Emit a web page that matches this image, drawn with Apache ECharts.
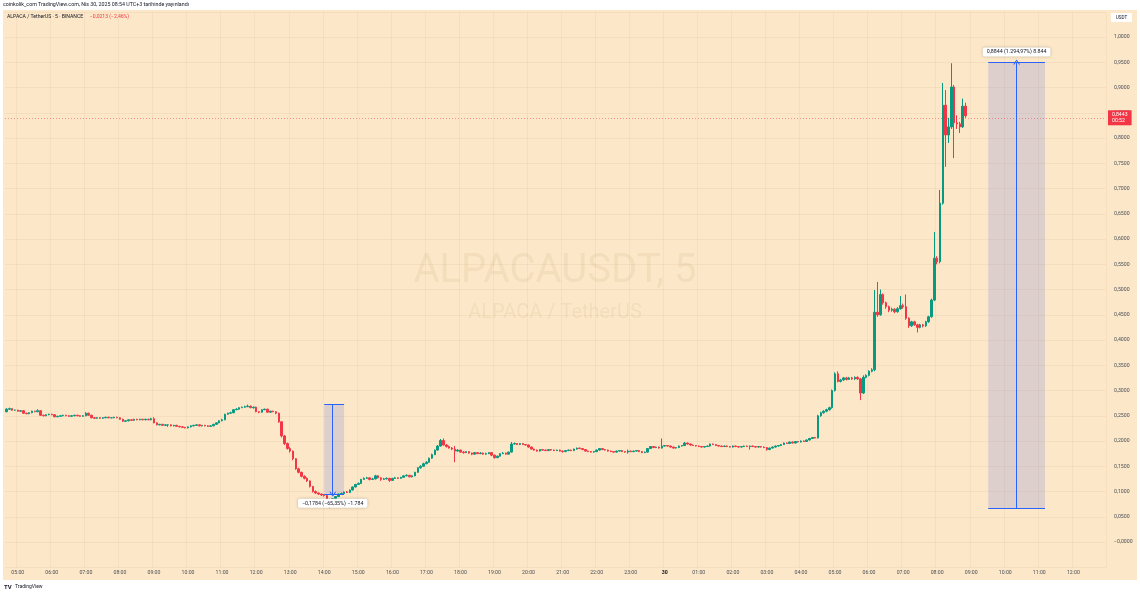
<!DOCTYPE html>
<html><head><meta charset="utf-8">
<script src="https://cdn.jsdelivr.net/npm/echarts@6/dist/echarts.min.js"></script>
<style>html,body{margin:0;padding:0;background:#fff}#c{width:1140px;height:593px}</style>
</head><body><div id="c"></div>
<script>
// ---- time slots (5-minute candles), starting 29 Apr 04:40 ----
const startMinute = 4 * 60 + 40;
const slotCount = 388;
const categories = [];
for (let i = 0; i < slotCount; i++) {
  const m = startMinute + i * 5;
  const d = 29 + Math.floor(m / 1440);
  const mm = m % 1440;
  categories.push(d + ' ' + String(Math.floor(mm / 60)).padStart(2, '0') + ':' + String(mm % 60).padStart(2, '0'));
}

// ---- OHLC values, in thousandths of USDT ----
const opens = [
258,263,264,261,
261,259,260,255,254,256,259,258,260,251,250,252,
253,252,248,249,250,251,250,249,250,251,250,249,
250,255,251,246,245,246,245,246,247,246,246,247,
246,243,239,240,242,241,243,242,243,242,243,242,
244,236,232,233,231,232,232,230,231,229,228,227,
226,228,230,231,232,230,231,230,229,230,233,236,
240,242,253,255,256,262,263,266,267,268,269,266,
267,258,257,262,263,257,259,258,255,238,210,195,
185,180,165,145,138,130,126,121,110,100,97,95,
93,92,84,81,86,90,95,96,99,98,103,109,
114,116,124,126,127,124,125,131,127,124,125,126,
122,126,127,126,128,131,132,129,131,138,147,150,
155,158,166,173,182,190,201,192,189,186,184,180,
182,178,177,179,176,174,177,175,176,174,175,177,
172,167,170,175,176,174,178,194,195,193,195,193,
192,188,184,182,180,183,182,181,183,182,181,182,
180,179,181,182,181,184,186,185,183,180,179,178,
179,182,185,183,182,180,179,178,180,181,179,178,
180,179,180,181,179,177,178,185,189,187,188,186,
190,191,190,188,186,187,190,191,196,194,192,191,
190,189,188,189,190,194,193,191,190,189,190,189,
188,190,189,188,189,190,189,190,189,188,189,188,
187,183,186,188,190,191,193,196,195,198,196,199,
198,200,199,202,205,207,206,250,256,259,262,266,
300,333,318,321,325,322,325,323,326,323,295,326,
330,338,341,455,450,490,474,466,459,461,456,462,
468,466,443,428,436,430,425,430,428,436,446,479,
562,555,671,865,806,822,901,830,828,822,863
];
const closes = [
263,264,261,261,
259,260,255,254,256,259,258,260,251,250,252,253,
252,248,249,250,251,250,249,250,251,250,249,250,
255,251,246,245,246,245,246,247,246,246,247,246,
243,239,240,242,241,243,242,243,242,243,242,244,
236,232,233,231,232,232,230,231,229,228,227,226,
228,230,231,232,230,231,230,229,230,233,236,240,
242,253,255,256,262,263,266,267,268,269,266,267,
258,257,262,263,257,259,258,255,238,210,195,185,
180,165,145,138,130,126,121,110,100,97,95,93,
92,84,81,86,90,95,96,99,98,103,109,114,
116,124,126,127,124,125,131,127,124,125,126,122,
126,127,126,128,131,132,129,131,138,147,150,155,
158,166,173,182,190,201,192,189,186,184,180,182,
178,177,179,176,174,177,175,176,174,175,177,172,
167,170,175,176,174,178,194,195,193,195,193,192,
188,184,182,180,183,182,181,183,182,181,182,180,
179,181,182,181,184,186,185,183,180,179,178,179,
182,185,183,182,180,179,178,180,181,179,178,180,
179,180,181,179,177,178,185,189,187,188,186,190,
191,190,188,186,187,190,191,196,194,192,191,190,
189,188,189,190,194,193,191,190,189,190,189,188,
190,189,188,189,190,189,190,189,188,189,188,187,
183,186,188,190,191,193,196,195,198,196,199,198,
200,199,202,205,207,206,250,256,259,262,266,300,
333,318,321,325,322,325,323,326,323,295,326,330,
338,341,455,450,490,474,466,459,461,456,462,468,
466,443,428,436,430,425,430,428,436,446,479,562,
555,671,865,806,822,901,830,828,822,863,844
];
const highs = [
265,266,265,262,
262,261,261,256,257,260,260,263,261,252,253,254,
254,253,250,251,252,252,251,251,252,252,251,251,
257,256,252,247,247,247,247,248,248,247,248,248,
247,244,241,243,243,244,244,244,244,244,244,246,
247,237,234,234,233,233,233,232,232,230,229,228,
229,231,232,233,233,232,232,231,231,234,237,241,
244,254,256,258,263,265,267,268,270,272,270,268,
268,259,263,264,264,260,260,259,256,239,212,197,
188,181,166,147,139,132,128,122,111,102,98,96,
95,93,86,87,91,96,98,100,101,104,110,115,
118,125,128,129,128,127,133,132,128,127,128,127,
127,129,128,129,132,134,133,132,139,148,152,157,
160,167,175,183,192,204,205,194,191,188,190,184,
183,180,180,180,177,178,178,178,177,177,178,178,
173,171,176,178,177,179,198,197,196,196,196,194,
193,189,185,183,184,184,183,184,184,183,183,183,
181,182,183,183,185,187,187,186,184,181,180,180,
183,186,186,184,183,181,180,181,182,182,180,183,
181,181,182,182,180,179,186,190,190,189,189,205,
192,192,191,189,188,191,192,198,197,195,193,192,
191,190,190,191,195,195,194,192,191,191,191,190,
191,191,190,190,191,191,191,191,190,190,190,189,
188,187,189,191,192,194,197,197,199,199,200,200,
201,201,203,206,208,208,252,258,261,264,268,302,
336,338,323,327,327,327,327,328,328,325,330,332,
340,344,499,515,500,492,476,468,464,463,465,487,
472,490,445,438,438,432,432,432,438,448,482,614,
566,697,909,895,840,948,905,845,832,878,870
];
const lows = [
257,262,260,260,
258,258,254,253,253,255,257,257,250,249,249,251,
251,247,247,248,249,249,248,248,249,249,248,248,
249,250,245,244,244,244,244,245,245,245,245,245,
242,238,238,239,240,240,241,241,241,241,241,241,
235,231,231,230,230,228,229,229,228,227,226,225,
225,227,229,230,229,229,229,228,228,229,232,235,
239,241,252,254,255,261,262,265,266,267,265,264,
257,255,256,261,256,256,257,253,236,207,192,183,
177,162,143,136,128,124,119,108,98,95,93,91,
90,80,67,79,85,89,94,95,97,97,102,108,
113,115,123,125,122,123,124,126,121,123,124,119,
121,125,125,125,127,130,128,128,130,137,145,149,
154,157,165,172,181,189,191,187,185,182,158,179,
177,175,176,175,172,173,174,174,173,173,174,170,
165,166,169,174,173,173,177,193,192,192,192,191,
187,183,181,179,179,181,180,180,181,180,180,179,
177,178,180,180,180,183,184,182,179,178,177,177,
178,181,182,181,179,178,177,177,179,178,177,175,
178,178,179,178,176,176,177,184,186,186,185,185,
189,189,187,185,185,186,189,190,193,191,190,189,
188,187,187,188,189,192,190,189,188,188,188,187,
187,188,187,187,188,188,183,188,187,187,187,186,
181,182,185,187,189,190,192,194,194,195,195,197,
197,198,198,201,204,205,205,248,254,257,260,264,
298,316,316,319,320,321,321,321,321,281,293,324,
328,336,338,446,448,470,462,455,456,453,454,460,
462,440,424,426,428,415,423,425,426,434,444,477,
550,552,668,743,790,818,760,818,810,820,840
];

// ---- price-range measurements and last price ----
const lastPrice = 0.8443;
const lastPriceText = '0,8443';
const countdownText = '00:52';
const dropRange = { from: '29 14:00', to: '29 14:35', arrowAt: '29 14:15', top: 0.2728, bottom: 0.0944,
  text: '\u22120,1784 (\u221265,35%) \u22121.784' };
const riseRange = { from: '30 09:30', to: '30 11:10', arrowAt: '30 10:20', top: 0.9505, bottom: 0.0661,
  text: '0,8844 (1.294,97%) 8.844' };

const candleData = opens.map((o, i) => [o / 1000, closes[i] / 1000, lows[i] / 1000, highs[i] / 1000]);

const UP = '#089981', DOWN = '#f23645', BLUE = '#2962ff';
const PEACH = '#fce8c8';
const FONT = 'Roboto, "Noto Sans", sans-serif';
const arrowPath = 'path://M0,10 L5,0 L10,10 L8.4,10 L5,3.2 L1.6,10 Z';

function yFmt(v) {
  const r = Math.round(v * 20) / 20;
  if (r < -0.001 || r > 1.001) return '';
  if (Math.abs(r) < 1e-9) return '\u22120,0000';
  return r.toFixed(4).replace('.', ',');
}

function rangeLines(r, arrowUp) {
  const ls = { color: BLUE, width: 1, type: 'solid' };
  return [
    [{ coord: [r.from, r.top], symbol: 'none', lineStyle: ls }, { coord: [r.to, r.top], symbol: 'none' }],
    [{ coord: [r.from, r.bottom], symbol: 'none', lineStyle: ls }, { coord: [r.to, r.bottom], symbol: 'none' }],
    arrowUp
      ? [{ coord: [r.arrowAt, r.bottom], symbol: 'none', lineStyle: ls }, { coord: [r.arrowAt, r.top], symbol: arrowPath, symbolSize: [7, 5] }]
      : [{ coord: [r.arrowAt, r.top], symbol: 'none', lineStyle: ls }, { coord: [r.arrowAt, r.bottom], symbol: arrowPath, symbolSize: [7, 5] }]
  ];
}

const chart = echarts.init(document.getElementById('c'), null, { renderer: 'canvas' });
const labelBox = { backgroundColor: '#ffffff', color: '#131722', fontSize: 5.3, fontFamily: FONT,
  padding: [2, 4], borderRadius: 2, shadowBlur: 3, shadowColor: 'rgba(0,0,0,0.25)' };

chart.setOption({
  animation: false,
  backgroundColor: '#ffffff',
  textStyle: { fontFamily: FONT },
  graphic: [
    { type: 'rect', z: -10, shape: { x: 3, y: 10, width: 1134, height: 570 }, style: { fill: PEACH } },
    { type: 'text', z: -5, x: 555, y: 272, style: { text: 'ALPACAUSDT, 5', fontSize: 40, fontFamily: FONT,
      fill: 'rgba(150,110,60,0.09)', align: 'center', verticalAlign: 'middle' } },
    { type: 'text', z: -5, x: 555, y: 313, style: { text: 'ALPACA / TetherUS', fontSize: 20, fontFamily: FONT,
      fill: 'rgba(150,110,60,0.09)', align: 'center', verticalAlign: 'middle' } },
    { type: 'text', x: 3, y: 5, style: { text: 'coinkolik_com TradingView.com, Nis 30, 2025 08:54 UTC+3 tarihinde yay\u0131nland\u0131',
      fontSize: 5.3, fontFamily: FONT, fill: '#131722', verticalAlign: 'middle' } },
    { type: 'text', x: 7, y: 17, style: { text: '{a|ALPACA / TetherUS \u00b7 5 \u00b7 BINANCE}  {r|\u22120,0213 (\u22122,46%)}',
      verticalAlign: 'middle', rich: { a: { fontSize: 5.1, fontFamily: FONT, fill: '#131722' }, r: { fontSize: 5.1, fontFamily: FONT, fill: DOWN } } } },
    { type: 'rect', shape: { x: 1111, y: 13, width: 21, height: 9, r: 1 }, style: { fill: '#ffffff' } },
    { type: 'text', x: 1121.5, y: 17.5, style: { text: 'USDT', fontSize: 4.6, fontFamily: FONT, fill: '#131722', align: 'center', verticalAlign: 'middle' } },
    { type: 'text', x: 4, y: 587, style: { text: '{l|TV} {t|TradingView}', verticalAlign: 'middle',
      rich: { l: { fontSize: 6, fontWeight: 'bold', fontFamily: FONT, fill: '#131722' }, t: { fontSize: 5, fontFamily: FONT, fill: '#131722' } } } }
  ],
  grid: { left: 5, right: 34, top: 11.75, bottom: 25.75, containLabel: false },
  xAxis: {
    type: 'category', data: categories, boundaryGap: true,
    axisLine: { show: false }, axisTick: { show: false },
    axisLabel: {
      interval: (i, v) => v.endsWith(':00'),
      formatter: v => (v === '30 00:00' ? '{b|30}' : v.slice(3)),
      margin: 3, fontSize: 5.2, color: '#4a4d57', fontFamily: FONT,
      rich: { b: { fontWeight: 'bold', fontSize: 5.2, color: '#131722', fontFamily: FONT } }
    },
    splitLine: { show: true, interval: (i, v) => v.endsWith(':00'), lineStyle: { color: 'rgba(160,120,70,0.07)', width: 1 } }
  },
  yAxis: {
    type: 'value', position: 'right', min: -0.05, max: 1.05, interval: 0.05, scale: false,
    axisLine: { show: false }, axisTick: { show: false },
    axisLabel: { margin: 8, fontSize: 5.2, color: '#4a4d57', fontFamily: FONT, formatter: yFmt },
    splitLine: { lineStyle: { color: 'rgba(160,120,70,0.08)', width: 1 } }
  },
  series: [{
    type: 'candlestick',
    data: candleData,
    barWidth: 2,
    itemStyle: { color: UP, color0: DOWN, borderColor: UP, borderColor0: DOWN, borderWidth: 1 },
    markArea: {
      silent: true,
      itemStyle: { color: 'rgba(150,150,215,0.3)' },
      data: [
        [{ xAxis: dropRange.from, yAxis: dropRange.top }, { xAxis: dropRange.to, yAxis: dropRange.bottom }],
        [{ xAxis: riseRange.from, yAxis: riseRange.top }, { xAxis: riseRange.to, yAxis: riseRange.bottom }]
      ]
    },
    markLine: {
      silent: true, animation: false, symbol: ['none', 'none'],
      label: { show: false },
      data: [
        { yAxis: lastPrice, lineStyle: { type: [1, 2], color: 'rgba(242,54,69,0.5)', width: 1 },
          label: { show: true, position: 'end', distance: 2, formatter: lastPriceText + '\n' + countdownText,
            backgroundColor: DOWN, color: '#ffffff', fontSize: 5.2, lineHeight: 6, padding: [1.5, 4, 1.5, 4], fontFamily: FONT, align: 'left' } }
      ].concat(rangeLines(dropRange, false), rangeLines(riseRange, true))
    },
    markPoint: {
      silent: true, symbol: 'rect', symbolSize: 1, itemStyle: { color: 'rgba(0,0,0,0)' },
      data: [
        { coord: [dropRange.arrowAt, dropRange.bottom], label: Object.assign({ show: true, position: 'bottom', distance: 4, formatter: dropRange.text }, labelBox) },
        { coord: [riseRange.arrowAt, riseRange.top], label: Object.assign({ show: true, position: 'top', distance: 5, formatter: riseRange.text }, labelBox) }
      ]
    }
  }]
});
</script>
</body></html>
